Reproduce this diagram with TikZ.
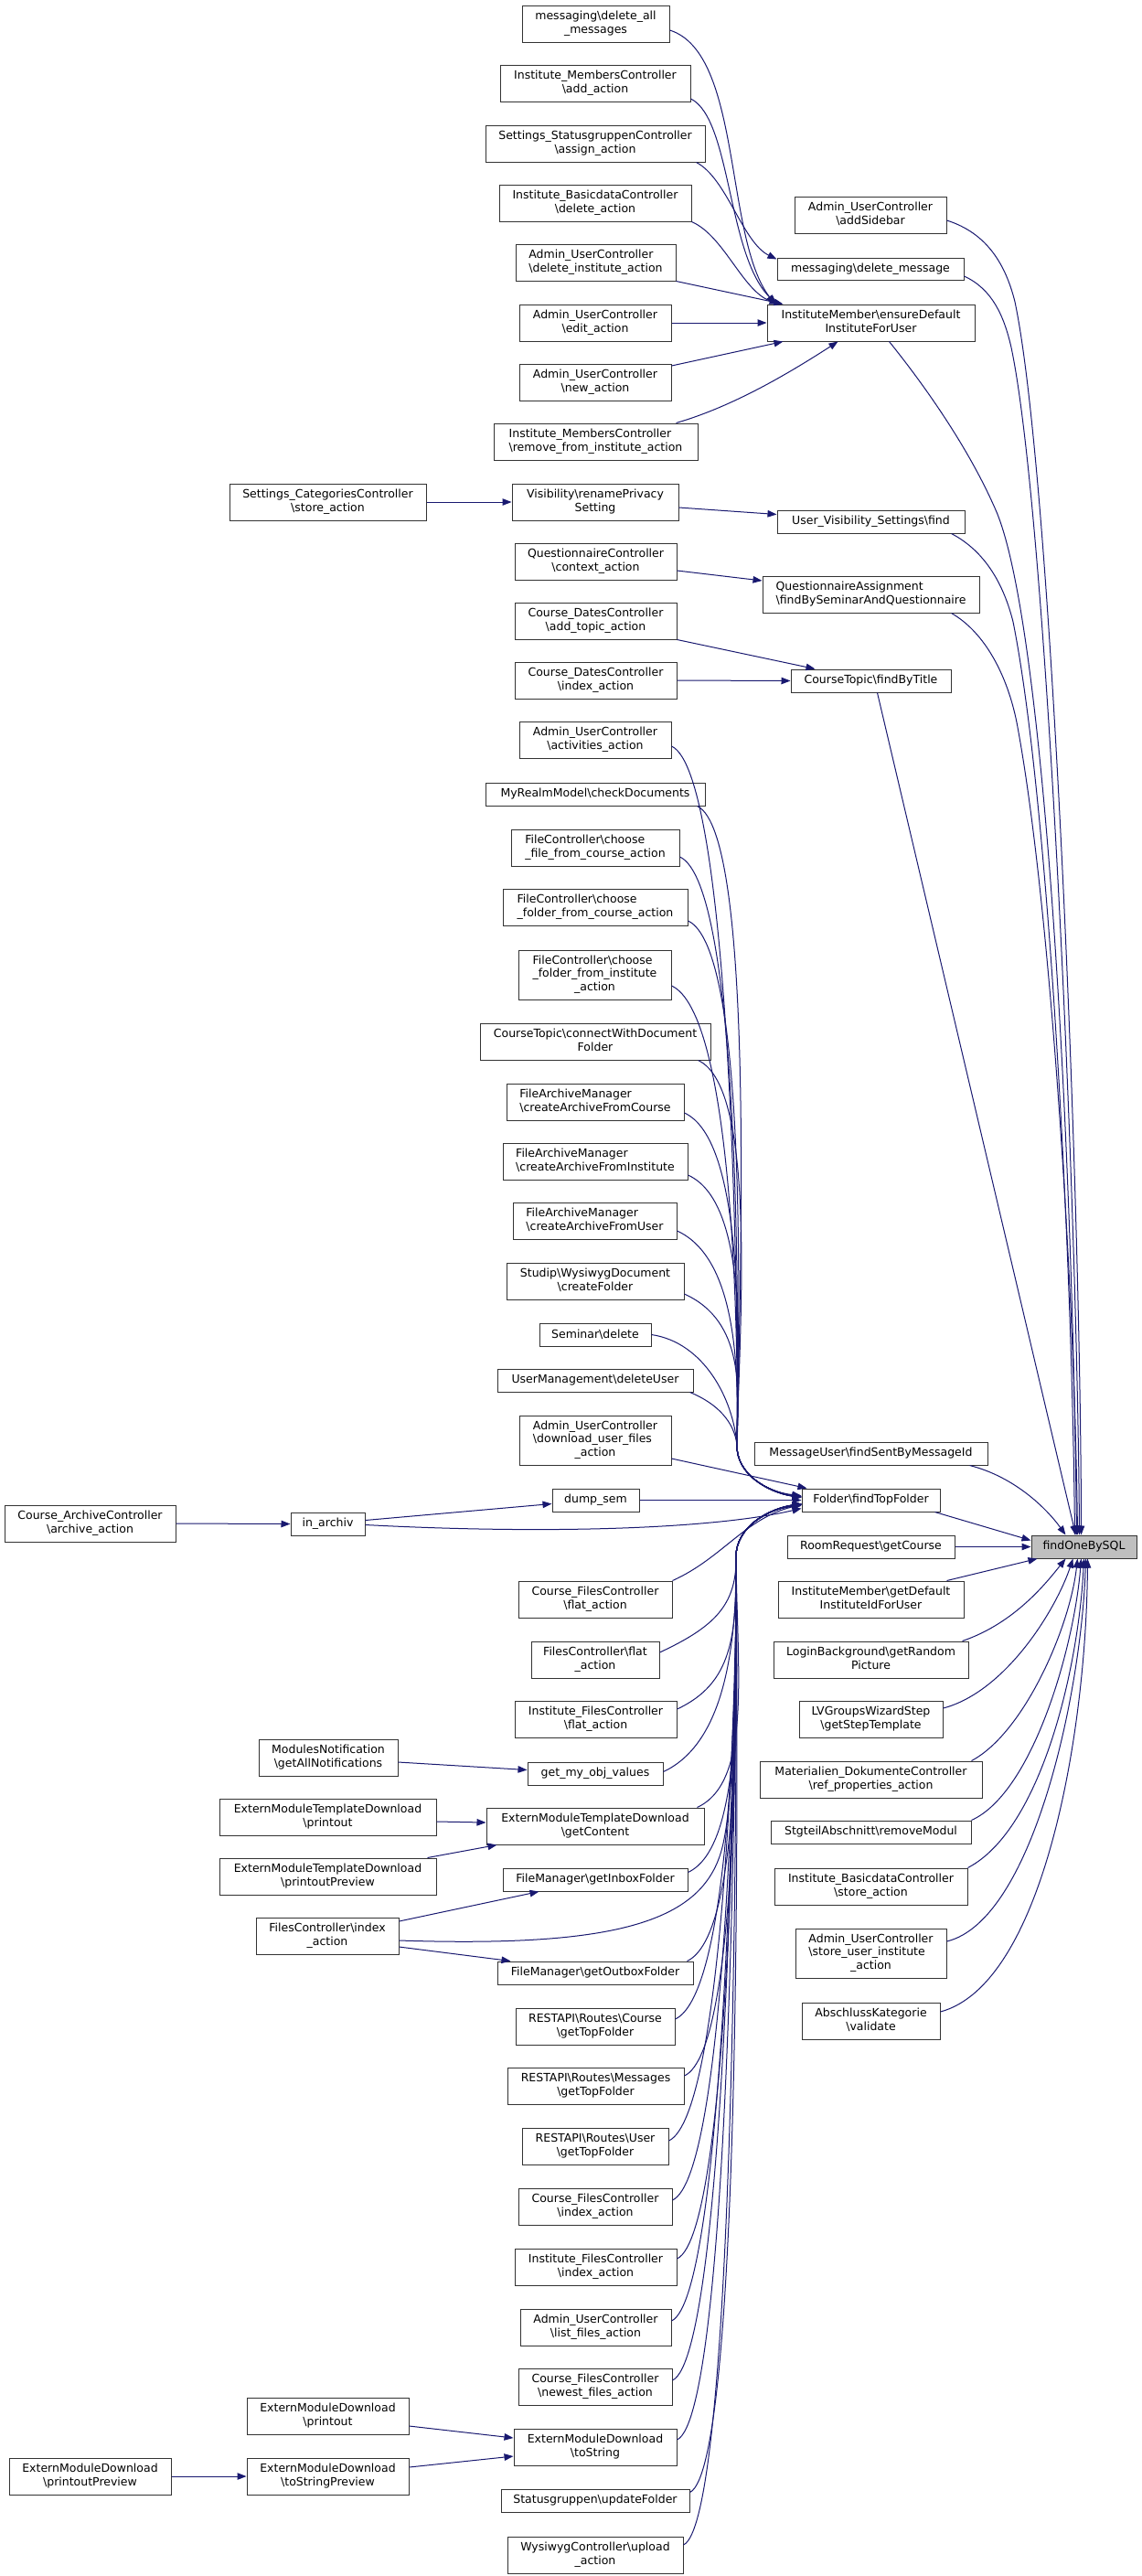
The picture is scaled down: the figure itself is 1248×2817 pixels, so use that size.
\documentclass[tikz,border=0pt]{standalone}
\usepackage{fontspec}
\setmainfont{DejaVu Sans}
\usetikzlibrary{arrows.meta}
\definecolor{mblue}{HTML}{191970}
\definecolor{bordc}{HTML}{333333}
\definecolor{hilite}{HTML}{BFBFBF}
\newcommand\bs{\textbackslash}
\newcommand\twol[2]{\begin{tabular}{@{}l@{}}#1\\\multicolumn{1}{@{}c@{}}{#2}\end{tabular}}
\newcommand\thrl[3]{\begin{tabular}{@{}l@{}}#1\\#2\\\multicolumn{1}{@{}c@{}}{#3}\end{tabular}}
\newcommand\bx[7][]{\node[box,#1,minimum width={(#5)-(#3)},minimum height={(#6)-(#4)}] (#2) at ({((#3)+(#5))/2},{((#4)+(#6))/2}) {#7};}
% upper bundle: start, end shift, control y
\newcommand\upf[3]{\draw[edge] (#1) .. controls +(66,30) and (808,#3) .. (806,1580) .. controls (805,1612) and (840,1632) .. ([yshift=#2]ftf.west);}
% lower bundle: start, end shift, control y
\newcommand\lof[3]{\draw[edge] (#1) .. controls +(60,-28) and (806,#3) .. (805,1702) .. controls (805,1670) and (840,1650) .. ([yshift=#2]ftf.west);}
\tikzset{
  box/.style={draw=bordc, fill=white, line width=1pt, inner sep=0pt, font=\fontsize{12.5}{14.5}\selectfont},
  edge/.style={draw=mblue, line width=1pt, -{Triangle[length=10pt,width=7.5pt]}},
}
\begin{document}
\begin{tikzpicture}[x=1pt,y=-1pt]
\fill[white] (0,0) rectangle (1248,2817);
\useasboundingbox (0,0) rectangle (1248,2817);
% nodes
\bx{dam}{571}{6}{732}{46}{\twol{messaging\bs delete\_all}{\_messages}}
\bx{ima}{547}{71}{755}{111}{\twol{Institute\_MembersController}{\bs add\_action}}
\bx{ssa}{531}{137}{771}{177}{\twol{Settings\_StatusgruppenController}{\bs assign\_action}}
\bx{ibd}{546}{202}{756}{242}{\twol{Institute\_BasicdataController}{\bs delete\_action}}
\bx{udi}{564}{267}{739}{307}{\twol{Admin\_UserController}{\bs delete\_institute\_action}}
\bx{ued}{568}{333}{734}{373}{\twol{Admin\_UserController}{\bs edit\_action}}
\bx{une}{568}{398}{734}{438}{\twol{Admin\_UserController}{\bs new\_action}}
\bx{imr}{540}{463}{763}{503}{\twol{Institute\_MembersController}{\bs remove\_from\_institute\_action}}
\bx{uas}{869}{215}{1035}{255}{\twol{Admin\_UserController}{\bs addSidebar}}
\bx{mdm}{850}{282}{1054}{306}{messaging\bs delete\_message}
\bx{ens}{839}{333}{1066}{373}{\twol{InstituteMember\bs ensureDefault}{InstituteForUser}}
\bx{scs}{251}{529}{466}{569}{\twol{Settings\_CategoriesController}{\bs store\_action}}
\bx{vrp}{560}{529}{742}{569}{\twol{Visibility\bs renamePrivacy}{Setting}}
\bx{uvs}{850}{558}{1055}{583}{User\_Visibility\_Settings\bs find}
\bx{qcc}{563}{594}{740}{634}{\twol{QuestionnaireController}{\bs context\_action}}
\bx{qaf}{834}{630}{1071}{670}{\twol{QuestionnaireAssignment}{\bs findBySeminarAndQuestionnaire}}
\bx{cda}{563}{659}{740}{699}{\twol{Course\_DatesController}{\bs add\_topic\_action}}
\bx{cdi}{563}{724}{740}{764}{\twol{Course\_DatesController}{\bs index\_action}}
\bx{ctf}{865}{732}{1040}{757}{CourseTopic\bs findByTitle}
\bx{uac}{568}{789}{734}{829}{\twol{Admin\_UserController}{\bs activities\_action}}
\bx{mrc}{531}{856}{771}{881}{MyRealmModel\bs checkDocuments}
\bx{fcf}{559}{907}{743}{947}{\twol{FileController\bs choose}{\_file\_from\_course\_action}}
\bx{fcc}{550}{972}{752}{1012}{\twol{FileController\bs choose}{\_folder\_from\_course\_action}}
\bx{fci}{567}{1039}{734}{1093}{\thrl{FileController\bs choose}{\_folder\_from\_institute}{\_action}}
\bx{ctc}{525}{1119}{777}{1159}{\twol{CourseTopic\bs connectWithDocument}{Folder}}
\bx{fac}{554}{1185}{748}{1225}{\twol{FileArchiveManager}{\bs createArchiveFromCourse}}
\bx{fai}{550}{1250}{752}{1290}{\twol{FileArchiveManager}{\bs createArchiveFromInstitute}}
\bx{fau}{561}{1315}{740}{1355}{\twol{FileArchiveManager}{\bs createArchiveFromUser}}
\bx{swc}{554}{1381}{748}{1421}{\twol{Studip\bs WysiwygDocument}{\bs createFolder}}
\bx{sde}{590}{1447}{712}{1472}{Seminar\bs delete}
\bx{umd}{544}{1497}{758}{1522}{UserManagement\bs deleteUser}
\bx{udu}{568}{1548}{734}{1602}{\thrl{Admin\_UserController}{\bs download\_user\_files}{\_action}}
\bx{dmp}{604}{1628}{699}{1653}{dump\_sem}
\bx{ftf}{877}{1628}{1028}{1653}{Folder\bs findTopFolder}
\bx{msg}{825}{1577}{1080}{1602}{MessageUser\bs findSentByMessageId}
\bx{rrc}{861}{1679}{1044}{1704}{RoomRequest\bs getCourse}
\bx{gdi}{851}{1729}{1054}{1769}{\twol{InstituteMember\bs getDefault}{InstituteIdForUser}}
\bx[fill=hilite]{fobs}{1128}{1679}{1243}{1704}{findOneBySQL}
\bx{cac}{5}{1646}{192}{1686}{\twol{Course\_ArchiveController}{\bs archive\_action}}
\bx{iar}{318}{1654}{399}{1679}{in\_archiv}
\bx{cff}{567}{1729}{735}{1769}{\twol{Course\_FilesController}{\bs flat\_action}}
\bx{ffl}{581}{1795}{721}{1835}{\twol{FilesController\bs flat}{\_action}}
\bx{lbg}{846}{1795}{1059}{1835}{\twol{LoginBackground\bs getRandom}{Picture}}
\bx{iff}{563}{1860}{740}{1900}{\twol{Institute\_FilesController}{\bs flat\_action}}
\bx{lvg}{874}{1860}{1031}{1900}{\twol{LVGroupsWizardStep}{\bs getStepTemplate}}
\bx{mng}{283}{1902}{435}{1942}{\twol{ModulesNotification}{\bs getAllNotifications}}
\bx{gmo}{577}{1927}{725}{1952}{get\_my\_obj\_values}
\bx{mdr}{831}{1926}{1074}{1966}{\twol{Materialien\_DokumenteController}{\bs ref\_properties\_action}}
\bx{etp}{240}{1967}{477}{2007}{\twol{ExternModuleTemplateDownload}{\bs printout}}
\bx{etc}{532}{1977}{770}{2017}{\twol{ExternModuleTemplateDownload}{\bs getContent}}
\bx{sar}{843}{1991}{1062}{2016}{StgteilAbschnitt\bs removeModul}
\bx{etv}{240}{2032}{477}{2072}{\twol{ExternModuleTemplateDownload}{\bs printoutPreview}}
\bx{fmi}{550}{2043}{752}{2068}{FileManager\bs getInboxFolder}
\bx{ibs}{847}{2043}{1058}{2083}{\twol{Institute\_BasicdataController}{\bs store\_action}}
\bx{fix}{280}{2097}{436}{2137}{\twol{FilesController\bs index}{\_action}}
\bx{usi}{870}{2109}{1035}{2163}{\thrl{Admin\_UserController}{\bs store\_user\_institute}{\_action}}
\bx{fmo}{544}{2145}{758}{2170}{FileManager\bs getOutboxFolder}
\bx{akv}{877}{2190}{1028}{2230}{\twol{AbschlussKategorie}{\bs validate}}
\bx{rac}{564}{2196}{738}{2236}{\twol{RESTAPI\bs Routes\bs Course}{\bs getTopFolder}}
\bx{ram}{555}{2261}{748}{2301}{\twol{RESTAPI\bs Routes\bs Messages}{\bs getTopFolder}}
\bx{rau}{571}{2327}{731}{2367}{\twol{RESTAPI\bs Routes\bs User}{\bs getTopFolder}}
\bx{cfi}{567}{2393}{735}{2433}{\twol{Course\_FilesController}{\bs index\_action}}
\bx{ifi}{563}{2459}{740}{2499}{\twol{Institute\_FilesController}{\bs index\_action}}
\bx{ulf}{569}{2525}{734}{2565}{\twol{Admin\_UserController}{\bs list\_files\_action}}
\bx{cfn}{567}{2590}{735}{2630}{\twol{Course\_FilesController}{\bs newest\_files\_action}}
\bx{emp}{270}{2622}{447}{2662}{\twol{ExternModuleDownload}{\bs printout}}
\bx{emt}{562}{2656}{740}{2696}{\twol{ExternModuleDownload}{\bs toString}}
\bx{emv}{10}{2688}{187}{2728}{\twol{ExternModuleDownload}{\bs printoutPreview}}
\bx{ems}{270}{2688}{447}{2728}{\twol{ExternModuleDownload}{\bs toStringPreview}}
\bx{suf}{548}{2722}{754}{2747}{Statusgruppen\bs updateFolder}
\bx{wcu}{555}{2774}{747}{2814}{\twol{WysiwygController\bs upload}{\_action}}
% edges into ensureDefault / delete_message
\draw[edge] ([yshift=-7]dam.east) .. controls (812,58) and (792,260) .. ([xshift=9]ens.north west);
\draw[edge] ([yshift=-17]ima.east) .. controls (800,130) and (795,280) .. ([xshift=11]ens.north west);
\draw[edge] ([xshift=-10]ssa.south east) .. controls (795,195) and (812,265) .. ([yshift=-2]mdm.north west);
\draw[edge] (ibd.south east) .. controls (792,258) and (812,318) .. ([xshift=13]ens.north west);
\draw[edge] (udi.south east) -- ([xshift=18]ens.north west);
\draw[edge] (ued.east) -- (ens.west);
\draw[edge] ([yshift=18]une.east) -- ([xshift=18]ens.south west);
\draw[edge] ([xshift=-24]imr.north east) .. controls (800,445) and (860,410) .. ([xshift=-36]ens.south);
% middle small edges
\draw[edge] (scs.east) -- (vrp.west);
\draw[edge] ([yshift=-6]vrp.east) -- ([yshift=8]uvs.west);
\draw[edge] ([yshift=-10]qcc.east) -- ([yshift=15]qaf.west);
\draw[edge] (cda.south east) -- ([xshift=27]ctf.north west);
\draw[edge] (cdi.east) -- (ctf.west);
% edges into findOneBySQL
\draw[edge] ([yshift=-6]uas.east) .. controls (1080,255) and (1100,290) .. (1110,330) .. controls (1150,520) and (1182,1300) .. ([xshift=-3]fobs.north);
\draw[edge] ([yshift=-8]mdm.east) .. controls (1085,316) and (1098,345) .. (1106,380) .. controls (1144,560) and (1178,1300) .. ([xshift=-5]fobs.north);
\draw[edge] ([xshift=20]ens.south) .. controls (1010,420) and (1060,490) .. (1090,560) .. controls (1140,680) and (1172,1200) .. ([xshift=-8]fobs.north);
\draw[edge] ([xshift=-15]uvs.south east) .. controls (1078,603) and (1098,640) .. (1108,680) .. controls (1146,870) and (1172,1350) .. ([xshift=-10]fobs.north);
\draw[edge] ([xshift=-31]qaf.south east) .. controls (1078,692) and (1102,740) .. (1112,790) .. controls (1148,980) and (1175,1400) .. ([xshift=-7]fobs.north);
\draw[edge] ([xshift=7]ctf.south) -- ([xshift=-9]fobs.north);
\draw[edge] ([xshift=-20]msg.south east) .. controls (1110,1615) and (1145,1650) .. ([xshift=-20]fobs.north);
\draw[edge] ([xshift=-6]ftf.south east) -- ([yshift=7]fobs.west);
\draw[edge] (rrc.east) -- (fobs.west);
\draw[edge] ([xshift=-19]gdi.north east) -- ([xshift=7]fobs.south west);
\draw[edge] ([xshift=-7]lbg.north east) .. controls (1110,1775) and (1145,1730) .. ([xshift=-20]fobs.south);
\draw[edge] ([yshift=12]lvg.east) .. controls (1100,1850) and (1155,1760) .. ([xshift=-12]fobs.south);
\draw[edge] ([xshift=-12]mdr.north east) .. controls (1120,1895) and (1170,1780) .. ([xshift=-7]fobs.south);
\draw[edge] (sar.north east) .. controls (1130,1960) and (1175,1800) .. ([xshift=-3]fobs.south);
\draw[edge] (ibs.north east) .. controls (1140,2000) and (1180,1820) .. (fobs.south);
\draw[edge] ([yshift=13]usi.east) .. controls (1130,2100) and (1183,1850) .. ([xshift=2]fobs.south);
\draw[edge] ([yshift=10]akv.east) .. controls (1140,2170) and (1188,1900) .. ([xshift=4]fobs.south);
% upper bundle into findTopFolder
\upf{[yshift=-7]uac.east}{4}{1440}
\upf{[xshift=-9]mrc.south east}{5}{1440}
\upf{[yshift=-10]fcf.east}{4}{1440}
\upf{[yshift=-15]fcc.east}{3}{1450}
\upf{[yshift=-12]fci.east}{4}{1450}
\upf{[xshift=-14]ctc.south east}{3}{1460}
\upf{[yshift=-12]fac.east}{4}{1470}
\upf{[yshift=-15]fai.east}{3}{1480}
\upf{[yshift=-11]fau.east}{4}{1500}
\upf{[yshift=-14]swc.east}{3}{1520}
\draw[edge] (sde.east) .. controls (770,1468) and (802,1530) .. (806,1580) .. controls (805,1612) and (840,1632) .. ([yshift=4]ftf.west);
\draw[edge] ([xshift=-4]umd.south east) .. controls (785,1535) and (803,1555) .. (806,1580) .. controls (805,1612) and (840,1632) .. ([yshift=3]ftf.west);
\draw[edge] ([yshift=-20]udu.east) -- ([xshift=6]ftf.north west);
\draw[edge] (dmp.east) -- (ftf.west);
\draw[edge] ([yshift=-1]iar.east) .. controls (600,1678) and (780,1672) .. ([yshift=-9]ftf.west);
% lower bundle into findTopFolder
\draw[edge] (cff.north east) .. controls (790,1704) and (815,1660) .. ([yshift=-5]ftf.west);
\lof{[yshift=8]ffl.east}{-5}{1755}
\lof{[yshift=11]iff.east}{-4}{1790}
\lof{[yshift=2]gmo.east}{-5}{1820}
\lof{[xshift=-8]etc.north east}{-4}{1830}
\lof{[yshift=8]fmi.east}{-5}{1840}
\draw[edge] ([yshift=-5]fix.east) .. controls (680,2130) and (770,2100) .. (790,2020) .. controls (805,1960) and (806,1780) .. (805,1702) .. controls (805,1670) and (840,1650) .. ([yshift=-6]ftf.west);
\lof{[xshift=-7]fmo.north east}{-4}{1850}
\lof{[yshift=8]rac.east}{-5}{1850}
\lof{[yshift=11]ram.east}{-4}{1850}
\lof{[yshift=6]rau.east}{-5}{1850}
\lof{[yshift=7]cfi.east}{-4}{1850}
\lof{[yshift=9]ifi.east}{-5}{1850}
\lof{[yshift=7]ulf.east}{-4}{1850}
\lof{[yshift=7]cfn.east}{-5}{1850}
\lof{[yshift=8]emt.east}{-4}{1850}
\lof{[yshift=9]suf.east}{-5}{1850}
\lof{[yshift=11]wcu.east}{-4}{1850}
% left-side edges
\draw[edge] (cac.east) -- (iar.west);
\draw[edge] ([yshift=4]iar.east) -- ([yshift=-4]dmp.west);
\draw[edge] ([yshift=-5]mng.east) -- ([yshift=4]gmo.west);
\draw[edge] ([yshift=-5]etp.east) -- ([yshift=4]etc.west);
\draw[edge] ([xshift=-10]etv.north east) -- ([xshift=12]etc.south west);
\draw[edge] ([yshift=16]fix.east) -- ([xshift=40]fmi.south west);
\draw[edge] ([yshift=-12]fix.east) -- ([xshift=15]fmo.north west);
\draw[edge] ([yshift=-11]emp.east) -- ([yshift=10]emt.west);
\draw[edge] ([yshift=10]ems.east) -- ([yshift=-10]emt.west);
\draw[edge] (emv.east) -- (ems.west);
\end{tikzpicture}
\end{document}
